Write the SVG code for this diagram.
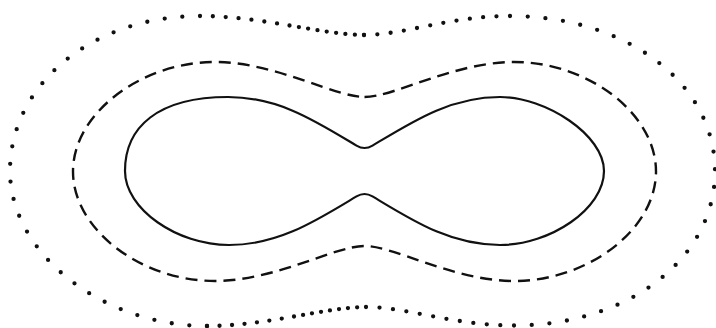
<svg xmlns="http://www.w3.org/2000/svg" width="716" height="328" viewBox="0 0 716 328">
<style>
.ln{fill:none;stroke:#111;stroke-linejoin:round}
.solid{stroke-width:2.2}
.dash{stroke-width:2.4;stroke-dasharray:12 7}
.dot{stroke-width:4.3;stroke-linecap:round;stroke-dasharray:0 1}
</style>
<rect width="716" height="328" fill="#fff"/>
<g id="curve-inner">
<path class="ln solid" d="M356.5,145.6 Q364.5,150.4 372.5,145.6 C412.5,121.6 450,97 500,97 C546,97 604,135 604,171 C604,209 550,245 500,245 C450,245 412.5,220.4 372.5,196.4 Q364.5,191.6 356.5,196.4 C316.5,220.4 279,245 229,245 C177,245 125,209 125,171 C125,127 158,97 228,97 C279,97 316.5,121.6 356.5,145.6 Z"/>
</g>
<g id="curve-middle">
<path class="ln dash" d="M364.5,97 C394.5,97 454,62 514,62 C588,62 656,113.5 656,171.5 C656,229.5 588,281 514,281 C454,281 394.5,246 364.5,246 C334.5,246 275,281 215,281 C141,281 73,229.5 73,171.5 C73,113.5 141,62 215,62 C275,62 334.5,97 364.5,97 Z"/>
</g>
<g id="curve-outer">
<path class="ln dot" pathLength="31" d="M200,16 C93,16 10,84 10,171 C10,253 102,326 207,326"/>
<path class="ln dot" pathLength="7" d="M207,326 C237,326 266.75,321.25 294,316.5"/>
<path class="ln dot" pathLength="8" d="M294,316.5 C321.25,311.75 346,307 366,307"/>
<path class="ln dot" pathLength="11" d="M366,307 C406,307 454,325.5 514,325.5"/>
<path class="ln dot" pathLength="32" d="M514,325.5 C628,325.5 715,259 715,171 C715,83 626,16 510,16"/>
<path class="ln dot" pathLength="11" d="M510,16 C450,16 404,35 364,35"/>
<path class="ln dot" pathLength="8" d="M364,35 C344,35 318,30.25 289.5,25.5"/>
<path class="ln dot" pathLength="7" d="M289.5,25.5 C261,20.75 230,16 200,16"/>
</g>
</svg>
